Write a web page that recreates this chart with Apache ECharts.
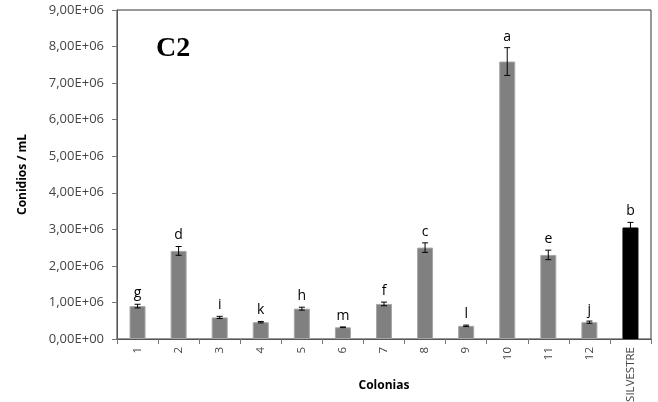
<!DOCTYPE html>
<html>
<head>
<meta charset="utf-8">
<script src="https://cdn.jsdelivr.net/npm/echarts@6/dist/echarts.min.js"></script>
<style>
    html, body { margin: 0; padding: 0; background: #fff; }
    #chart { width: 658px; height: 402px; }
</style>
</head>
<body>
<div id="chart"></div>
<script>
// categorias (colonias)
const colonias = ['1', '2', '3', '4', '5', '6', '7', '8', '9', '10', '11', '12', 'SILVESTRE']
// conidios / mL
const valores = [0.90e6, 2.41e6, 0.59e6, 0.46e6, 0.83e6, 0.32e6, 0.96e6, 2.50e6, 0.36e6, 7.59e6, 2.30e6, 0.46e6, 3.05e6]
// error estandar
const errores = [0.05e6, 0.12e6, 0.03e6, 0.02e6, 0.04e6, 0.01e6, 0.05e6, 0.13e6, 0.02e6, 0.38e6, 0.13e6, 0.03e6, 0.14e6]
// letras de significancia
const letras = ['g', 'd', 'i', 'k', 'h', 'm', 'f', 'c', 'l', 'a', 'e', 'j', 'b']

const fuente = 'Open Sans'

function formatoEje(v) {
    if (v === 0) return '0,00E+00'
    return (v / 1e6).toFixed(2).replace('.', ',') + 'E+06'
}

const barras = valores.map(function(v, i) {
    return {
        value: v,
        itemStyle: {
            color: colonias[i] === 'SILVESTRE' ? '#000' : '#808080',
            borderColor: colonias[i] === 'SILVESTRE' ? '#000' : '#a6a6a6',
            borderWidth: 1
        }
    }
})

const errorData = valores.map(function(v, i) {
    return [i, v - errores[i], v + errores[i], letras[i]]
})

let option = {
    animation: false,
    backgroundColor: '#fff',
    title: {
        text: 'C2',
        left: 151,
        top: 30,
        textStyle: {
            fontFamily: 'Liberation Serif',
            fontWeight: 'bold',
            fontSize: 28,
            color: '#000'
        }
    },
    grid: {
        left: 117,
        right: 7,
        top: 10,
        bottom: 63,
        containLabel: false,
        outerBoundsMode: 'none',
        show: true,
        borderColor: '#333',
        borderWidth: 1
    },
    xAxis: {
        type: 'category',
        data: colonias,
        name: 'Colonias',
        nameLocation: 'middle',
        nameGap: 41,
        nameMoveOverlap: false,
        nameTextStyle: {
            fontFamily: fuente,
            fontWeight: 'bold',
            fontSize: 12,
            color: '#000'
        },
        axisLine: { lineStyle: { color: '#555', width: 1 } },
        axisTick: { show: true, length: 5, lineStyle: { color: '#777' } },
        axisLabel: {
            rotate: 90,
            fontFamily: fuente,
            fontSize: 11.5,
            color: '#444',
            margin: 8,
            interval: 0
        }
    },
    yAxis: {
        type: 'value',
        min: 0,
        max: 9e6,
        interval: 1e6,
        name: 'Conidios / mL',
        nameLocation: 'middle',
        nameGap: 88,
        nameMoveOverlap: false,
        nameTextStyle: {
            fontFamily: fuente,
            fontWeight: 'bold',
            fontSize: 12,
            color: '#000'
        },
        axisLine: { show: true, lineStyle: { color: '#555', width: 1 } },
        axisTick: { show: true, length: 5, lineStyle: { color: '#777' } },
        splitLine: { show: false },
        axisLabel: {
            fontFamily: fuente,
            fontSize: 13,
            color: '#444',
            margin: 13,
            formatter: formatoEje
        }
    },
    series: [
        {
            type: 'bar',
            data: barras,
            barWidth: 16
        },
        {
            type: 'custom',
            data: errorData,
            z: 10,
            renderItem: function(params, api) {
                const x = api.value(0)
                const bajo = api.coord([x, api.value(1)])
                const alto = api.coord([x, api.value(2)])
                const cap = 3
                return {
                    type: 'group',
                    children: [
                        { type: 'line', shape: { x1: alto[0], y1: alto[1], x2: bajo[0], y2: bajo[1] }, style: { stroke: '#000', lineWidth: 1 } },
                        { type: 'line', shape: { x1: alto[0] - cap, y1: alto[1], x2: alto[0] + cap, y2: alto[1] }, style: { stroke: '#000', lineWidth: 1 } },
                        { type: 'line', shape: { x1: bajo[0] - cap, y1: bajo[1], x2: bajo[0] + cap, y2: bajo[1] }, style: { stroke: '#000', lineWidth: 1 } },
                        {
                            type: 'text',
                            x: alto[0],
                            y: alto[1] - 4,
                            style: {
                                text: letras[params.dataIndex],
                                fill: '#000',
                                font: '14px "Open Sans"',
                                align: 'center',
                                verticalAlign: 'bottom'
                            }
                        }
                    ]
                }
            }
        }
    ]
}

var myChart = echarts.init(document.getElementById('chart'))
myChart.setOption(option)
</script>
</body>
</html>
